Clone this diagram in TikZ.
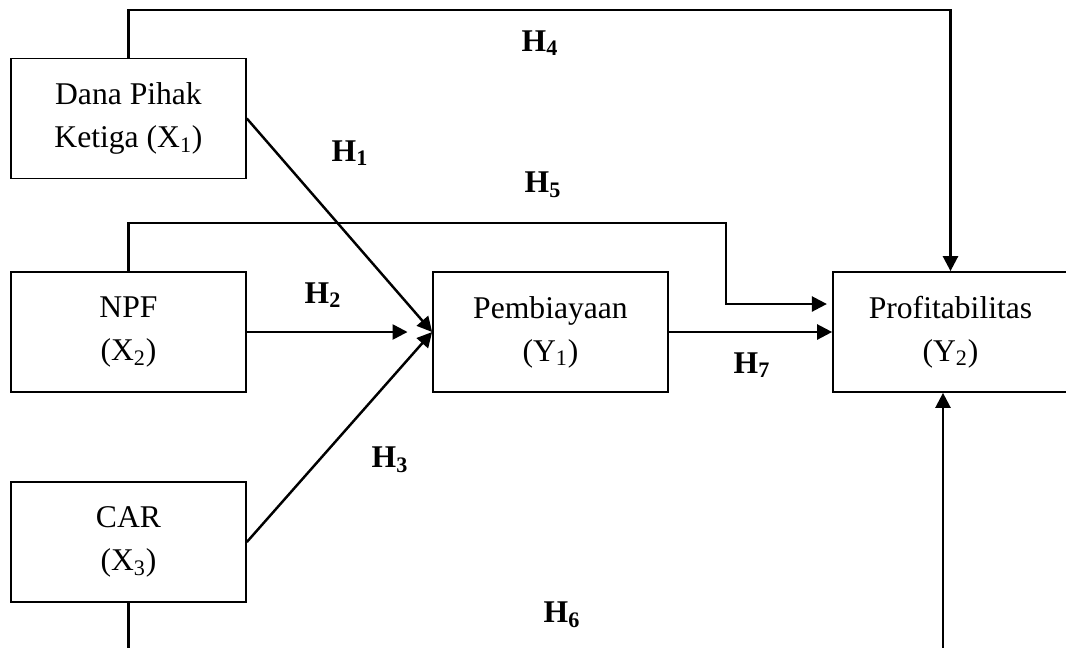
\documentclass[tikz,border=0pt]{standalone}
\usepackage{fontspec}
\setmainfont{Liberation Serif}
\usetikzlibrary{arrows.meta}

\begin{document}
\begin{tikzpicture}[x=0.02cm, y=-0.02cm,
  var/.style={draw, line width=1pt, minimum width=4.7cm, minimum height=2.4cm, align=center, font=\fontsize{18}{24.5}\selectfont},
  hyp/.style={font=\fontsize{18}{22}\selectfont\bfseries},
  arr/.style={line width=1.4pt, -{Triangle[length=8.5pt, width=8.5pt]}}]
\useasboundingbox (0,0) rectangle (1066,647);
\clip (0,0) rectangle (1066,647);
\node[var] (x1) at (128.5,118.5) {Dana Pihak\\Ketiga (X\textsubscript{1})};
\node[var] (x2) at (128.5,332) {NPF\\(X\textsubscript{2})};
\node[var] (x3) at (128.5,542) {CAR\\(X\textsubscript{3})};
\node[var] (y1) at (550.5,332) {Pembiayaan\\(Y\textsubscript{1})};
\node[var] (y2) at (950.5,332) {Profitabilitas\\(Y\textsubscript{2})};
\coordinate (top) at (0,10);
\coordinate (h5top) at (0,223);
\coordinate (h5bend) at (726,304);
\coordinate (bot) at (0,650);
\coordinate (h6b) at (943,650);
\draw[arr] (x1.north) -- (x1.north |- top) -| (y2.north);
\draw[arr, shorten >=3pt] (x2.north) -- (x2.north |- h5top) -| (h5bend) -- (h5bend -| y2.west);
\draw[arr] (x1.east) -- (y1.west);
\draw[arr, shorten >=14pt] (x2.east) -- (y1.west);
\draw[arr] (x3.east) -- (y1.west);
\draw[arr] (y1.east) -- (y2.west);
\draw[line width=1.4pt] (x3.south) -- (x3.south |- bot);
\draw[arr] (h6b) -- (h6b |- y2.south);
\node[hyp] (h1) at (350,153) {H\textsubscript{1}};
\node[hyp] (h2) at (323,295) {H\textsubscript{2}};
\node[hyp] (h3) at (390,460) {H\textsubscript{3}};
\node[hyp] (h4) at (540,43) {H\textsubscript{4}};
\node[hyp] (h5) at (543,185) {H\textsubscript{5}};
\node[hyp] (h6) at (562,615) {H\textsubscript{6}};
\node[hyp] (h7) at (752,365) {H\textsubscript{7}};
\end{tikzpicture}
\end{document}
